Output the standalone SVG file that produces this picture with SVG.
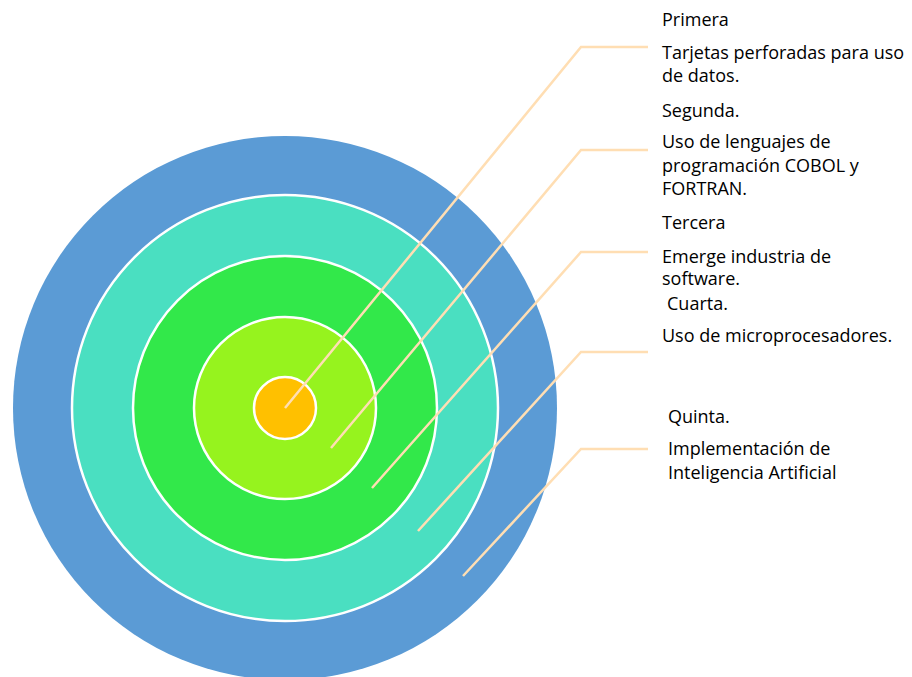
<svg xmlns="http://www.w3.org/2000/svg" width="912" height="677" viewBox="0 0 912 677">
  <style>
    .ring { stroke: #ffffff; stroke-width: 2.5; }
    .lead { fill: none; stroke: #FFDEB3; stroke-width: 2.5; }
    .lbl { font-family: "Open Sans", "Liberation Sans", sans-serif; font-size: 18px; fill: #000000; }
  </style>
  <rect width="912" height="677" fill="#ffffff"/>

  <!-- concentric generation rings, outermost first -->
  <g id="ring-quinta"><circle cx="285" cy="408" r="272" fill="#5B9BD5"/></g>
  <g id="ring-cuarta"><circle class="ring" cx="285" cy="408" r="213" fill="#4ADFC1"/></g>
  <g id="ring-tercera"><circle class="ring" cx="285" cy="408" r="152" fill="#32E84A"/></g>
  <g id="ring-segunda"><circle class="ring" cx="285" cy="408" r="91" fill="#96F31E"/></g>
  <g id="ring-primera"><circle class="ring" cx="285" cy="408" r="31" fill="#FFC000"/></g>

  <!-- leader lines from each ring to its label -->
  <g id="connectors">
    <polyline class="lead" points="285,408 581,47 648,47"/>
    <polyline class="lead" points="331,448 581,150 648,150"/>
    <polyline class="lead" points="372,488 581,252 648,252"/>
    <polyline class="lead" points="418,531 581,352 648,352"/>
    <polyline class="lead" points="463,576 581,449 648,449"/>
  </g>

  <!-- labels -->
  <g id="label-primera" class="lbl">
    <text x="662" y="26">Primera</text>
    <text x="662" y="59">Tarjetas perforadas para uso</text>
    <text x="662" y="82">de datos.</text>
  </g>
  <g id="label-segunda" class="lbl">
    <text x="662" y="117">Segunda.</text>
    <text x="662" y="148">Uso de lenguajes de</text>
    <text x="662" y="172">programación COBOL y</text>
    <text x="662" y="195">FORTRAN.</text>
  </g>
  <g id="label-tercera" class="lbl">
    <text x="662" y="229">Tercera</text>
    <text x="662" y="263">Emerge industria de</text>
    <text x="662" y="285">software.</text>
  </g>
  <g id="label-cuarta" class="lbl">
    <text x="667" y="310">Cuarta.</text>
    <text x="662" y="342">Uso de microprocesadores.</text>
  </g>
  <g id="label-quinta" class="lbl">
    <text x="668" y="423">Quinta.</text>
    <text x="668" y="455">Implementación de</text>
    <text x="668" y="479">Inteligencia Artificial</text>
  </g>
</svg>
